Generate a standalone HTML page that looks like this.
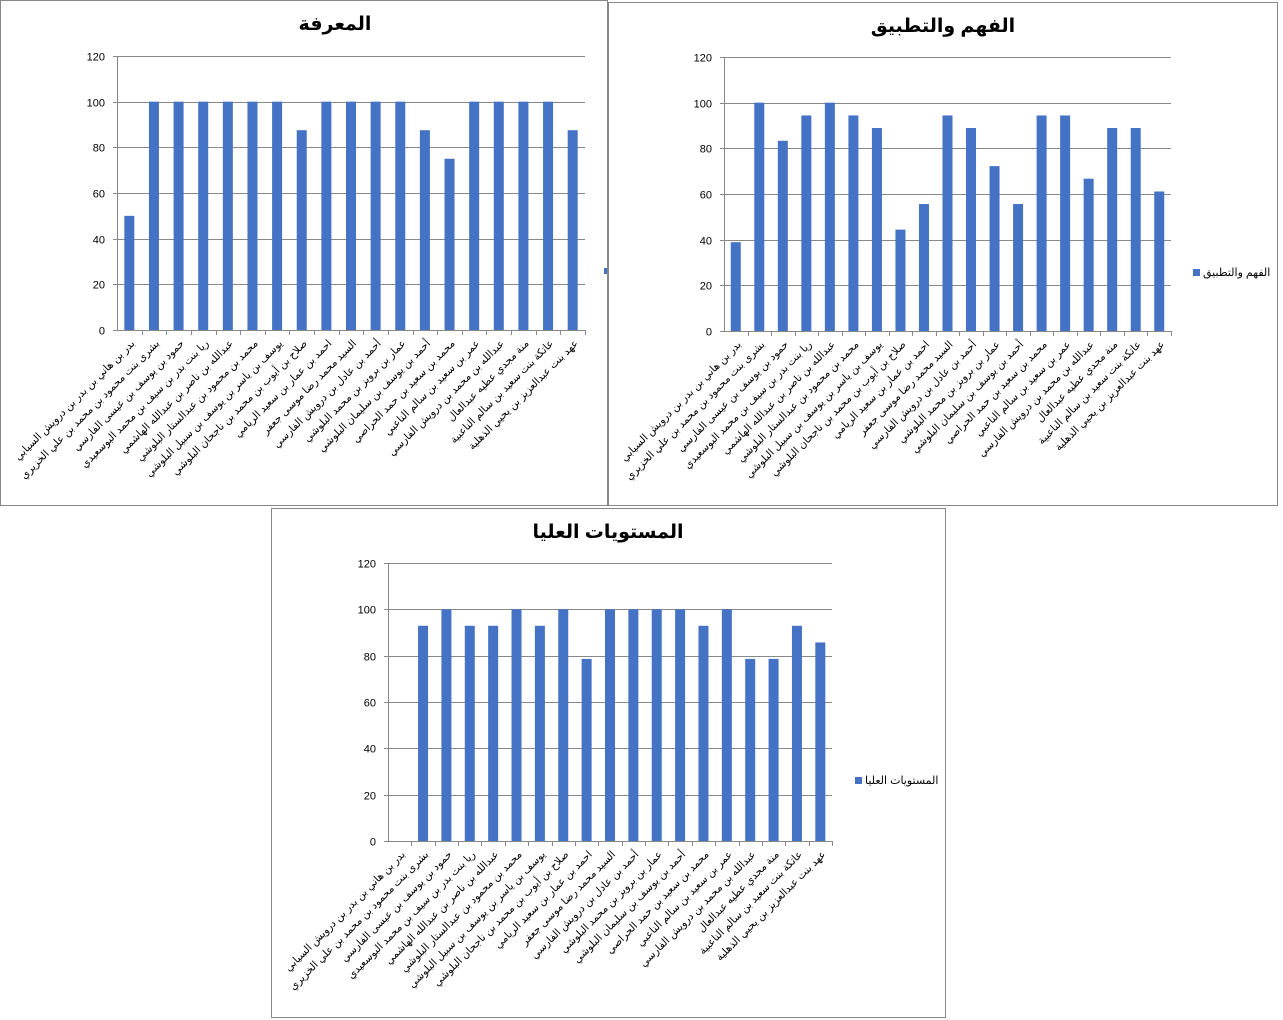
<!DOCTYPE html>
<html><head><meta charset="utf-8">
<style>
body{margin:0;background:#fff;width:1283px;height:1020px;overflow:hidden;font-family:"Liberation Sans","Noto Sans CJK SC",sans-serif;}
svg{position:absolute;left:0;top:0}
</style></head>
<body>
<svg id="s" width="1283" height="1020" xmlns="http://www.w3.org/2000/svg" font-family="Liberation Sans, DejaVu Sans, sans-serif"></svg>
<script>
var names=["بدر بن هاني بن بدر بن درويش السيابي","بشرى بنت محمود بن محمد بن علي الخزيري","حمود بن يوسف بن عيسى الفارسي","ريا بنت بدر بن سيف بن محمد البوسعيدي","عبدالله بن ناصر بن عبدالله الهاشمي","محمد بن محمود بن عبدالستار البلوشي","يوسف بن ياسر بن يوسف بن سبيل البلوشي","صلاح بن أيوب بن محمد بن ناجحان البلوشي","احمد بن عمار بن سعيد الريامي","السيد محمد رضا موسى جعفر","أحمد بن عادل بن درويش الفارسي","عمار بن برويز بن محمد البلوشي","أحمد بن يوسف بن سليمان البلوشي","محمد بن سعيد بن حمد الحراصي","عمر بن سعيد بن سالم الناعبي","عبدالله بن محمد بن درويش الفارسي","منة مجدي عطيه عبدالعال","عاتكة بنت سعيد بن سالم الناعبية","عهد بنت عبدالعزيز بن يحيي الذهلية"];
var charts=[
{box:[0.5,0.5,607,505],title:"المعرفة",tx:335,ty:30,ax:117,ar:585,y0:330,y120:56,
 v:[50,100,100,100,100,100,100,87.5,100,100,100,100,87.5,75,100,100,100,100,87.5]},
{box:[608.5,2.5,669,503],title:"الفهم والتطبيق",tx:943,ty:32,ax:724,ar:1171,y0:331,y120:57,leg:[1193,272],
 v:[38.9,100,83.3,94.4,100,94.4,88.9,44.4,55.6,94.4,88.9,72.2,55.6,94.4,94.4,66.7,88.9,88.9,61.1]},
{box:[271.5,508.5,674,509],title:"المستويات العليا",tx:608,ty:538,ax:388,ar:832,y0:841,y120:563,leg:[855,780],
 v:[0,92.9,100,92.9,92.9,100,92.9,100,78.6,100,100,100,100,92.9,100,78.6,78.6,92.9,85.7]}
];
var h='';
charts.forEach(function(c){
 var b=c.box;
 h+='<rect x="'+b[0]+'" y="'+b[1]+'" width="'+b[2]+'" height="'+b[3]+'" fill="#fff" stroke="#888"/>';
 h+='<text x="'+c.tx+'" y="'+c.ty+'" text-anchor="middle" font-size="19" font-weight="bold">'+c.title+'</text>';
 var sc=(c.y0-c.y120)/120;
 for(var t=0;t<=120;t+=20){var y=Math.round(c.y0-t*sc)+0.5;
  h+='<line x1="'+(c.ax-4)+'" x2="'+c.ar+'" y1="'+y+'" y2="'+y+'" stroke="#888" stroke-width="1"/>';
  h+='<text x="'+(c.ax-12)+'" y="'+(y+4)+'" text-anchor="end" font-size="11">'+t+'</text>';}
 h+='<line x1="'+(c.ax+.5)+'" x2="'+(c.ax+.5)+'" y1="'+c.y120+'" y2="'+c.y0+'" stroke="#888"/>';
 var w=(c.ar-c.ax)/19;
 for(var i=0;i<19;i++){
  var cx=c.ax+w*(i+0.5);
  var tk=Math.round(c.ax+w*(i+1))+0.5;
  h+='<line x1="'+tk+'" x2="'+tk+'" y1="'+c.y0+'" y2="'+(c.y0+5)+'" stroke="#888"/>';
  if(c.v[i]>0){var bh=c.v[i]*sc;
   h+='<rect x="'+(cx-5)+'" y="'+(c.y0-bh)+'" width="10" height="'+bh+'" fill="#4472C4"/>';}
  h+='<text transform="translate('+(cx+6)+','+(c.y0+14)+') rotate(-45)" text-anchor="end" font-size="10.5">'+names[i]+'</text>';
 }
 if(c.leg){h+='<rect x="'+c.leg[0]+'" y="'+(c.leg[1]-3)+'" width="7" height="7" fill="#4472C4"/>';
  h+='<text x="'+(c.leg[0]+10)+'" y="'+(c.leg[1]+4)+'" font-size="11">'+c.title+'</text>';}
});
h+='<rect x="604" y="268" width="3" height="6" fill="#4472C4"/>';
document.getElementById('s').innerHTML=h;
</script>
</body></html>
